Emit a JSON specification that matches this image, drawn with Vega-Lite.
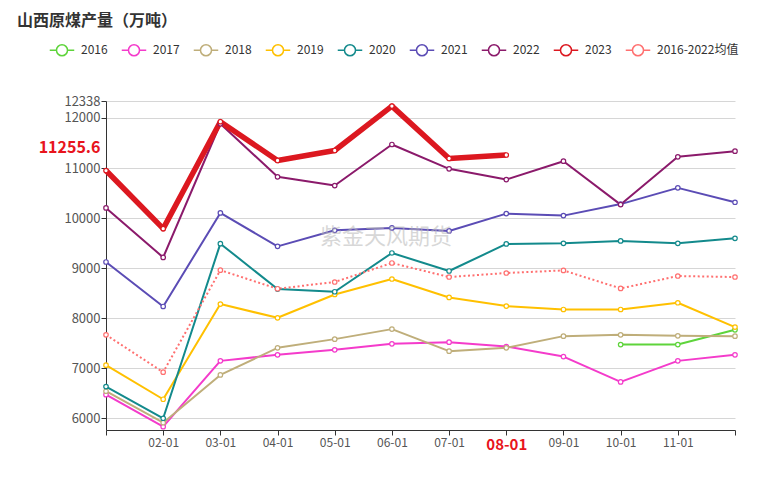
{
  "$schema": "https://vega.github.io/schema/vega-lite/v6.json",
  "autosize": "none",
  "width": 629,
  "height": 329,
  "padding": {"left": 106, "top": 101, "right": 37, "bottom": 60},
  "background": "white",
  "title": {"text": "山西原煤产量（万吨）", "anchor": "start", "frame": "group", "dx": -89, "offset": 8, "font": "Noto Sans CJK SC", "fontSize": 16, "fontWeight": "bold", "color": "#333333"},
  "config": {"view": {"stroke": null}, "font": "Noto Sans CJK SC"},
  "data": {"values": [
    {"s": "2016", "m": "10-01", "v": 7476}, {"s": "2016", "m": "11-01", "v": 7476}, {"s": "2016", "m": "12-01", "v": 7770},
    {"s": "2017", "m": "01-01", "v": 6476}, {"s": "2017", "m": "02-01", "v": 5836}, {"s": "2017", "m": "03-01", "v": 7150}, {"s": "2017", "m": "04-01", "v": 7270}, {"s": "2017", "m": "05-01", "v": 7370}, {"s": "2017", "m": "06-01", "v": 7490}, {"s": "2017", "m": "07-01", "v": 7524}, {"s": "2017", "m": "08-01", "v": 7436}, {"s": "2017", "m": "09-01", "v": 7236}, {"s": "2017", "m": "10-01", "v": 6730}, {"s": "2017", "m": "11-01", "v": 7150}, {"s": "2017", "m": "12-01", "v": 7270},
    {"s": "2018", "m": "01-01", "v": 6544}, {"s": "2018", "m": "02-01", "v": 5916}, {"s": "2018", "m": "03-01", "v": 6870}, {"s": "2018", "m": "04-01", "v": 7410}, {"s": "2018", "m": "05-01", "v": 7584}, {"s": "2018", "m": "06-01", "v": 7784}, {"s": "2018", "m": "07-01", "v": 7344}, {"s": "2018", "m": "08-01", "v": 7410}, {"s": "2018", "m": "09-01", "v": 7644}, {"s": "2018", "m": "10-01", "v": 7670}, {"s": "2018", "m": "11-01", "v": 7650}, {"s": "2018", "m": "12-01", "v": 7644},
    {"s": "2019", "m": "01-01", "v": 7064}, {"s": "2019", "m": "02-01", "v": 6384}, {"s": "2019", "m": "03-01", "v": 8284}, {"s": "2019", "m": "04-01", "v": 8010}, {"s": "2019", "m": "05-01", "v": 8476}, {"s": "2019", "m": "06-01", "v": 8784}, {"s": "2019", "m": "07-01", "v": 8416}, {"s": "2019", "m": "08-01", "v": 8244}, {"s": "2019", "m": "09-01", "v": 8176}, {"s": "2019", "m": "10-01", "v": 8176}, {"s": "2019", "m": "11-01", "v": 8310}, {"s": "2019", "m": "12-01", "v": 7824},
    {"s": "2020", "m": "01-01", "v": 6636}, {"s": "2020", "m": "02-01", "v": 6004}, {"s": "2020", "m": "03-01", "v": 9490}, {"s": "2020", "m": "04-01", "v": 8584}, {"s": "2020", "m": "05-01", "v": 8530}, {"s": "2020", "m": "06-01", "v": 9304}, {"s": "2020", "m": "07-01", "v": 8944}, {"s": "2020", "m": "08-01", "v": 9484}, {"s": "2020", "m": "09-01", "v": 9496}, {"s": "2020", "m": "10-01", "v": 9544}, {"s": "2020", "m": "11-01", "v": 9496}, {"s": "2020", "m": "12-01", "v": 9596},
    {"s": "2021", "m": "01-01", "v": 9124}, {"s": "2021", "m": "02-01", "v": 8236}, {"s": "2021", "m": "03-01", "v": 10104}, {"s": "2021", "m": "04-01", "v": 9436}, {"s": "2021", "m": "05-01", "v": 9756}, {"s": "2021", "m": "06-01", "v": 9804}, {"s": "2021", "m": "07-01", "v": 9744}, {"s": "2021", "m": "08-01", "v": 10090}, {"s": "2021", "m": "09-01", "v": 10050}, {"s": "2021", "m": "10-01", "v": 10280}, {"s": "2021", "m": "11-01", "v": 10604}, {"s": "2021", "m": "12-01", "v": 10316},
    {"s": "2022", "m": "01-01", "v": 10204}, {"s": "2022", "m": "02-01", "v": 9216}, {"s": "2022", "m": "03-01", "v": 11884}, {"s": "2022", "m": "04-01", "v": 10824}, {"s": "2022", "m": "05-01", "v": 10650}, {"s": "2022", "m": "06-01", "v": 11470}, {"s": "2022", "m": "07-01", "v": 10984}, {"s": "2022", "m": "08-01", "v": 10770}, {"s": "2022", "m": "09-01", "v": 11136}, {"s": "2022", "m": "10-01", "v": 10270}, {"s": "2022", "m": "11-01", "v": 11224}, {"s": "2022", "m": "12-01", "v": 11336},
    {"s": "2023", "m": "01-01", "v": 10950}, {"s": "2023", "m": "02-01", "v": 9790}, {"s": "2023", "m": "03-01", "v": 11924}, {"s": "2023", "m": "04-01", "v": 11150}, {"s": "2023", "m": "05-01", "v": 11350}, {"s": "2023", "m": "06-01", "v": 12236}, {"s": "2023", "m": "07-01", "v": 11190}, {"s": "2023", "m": "08-01", "v": 11260},
    {"s": "2016-2022均值", "m": "01-01", "v": 7670}, {"s": "2016-2022均值", "m": "02-01", "v": 6924}, {"s": "2016-2022均值", "m": "03-01", "v": 8960}, {"s": "2016-2022均值", "m": "04-01", "v": 8590}, {"s": "2016-2022均值", "m": "05-01", "v": 8724}, {"s": "2016-2022均值", "m": "06-01", "v": 9104}, {"s": "2016-2022均值", "m": "07-01", "v": 8824}, {"s": "2016-2022均值", "m": "08-01", "v": 8904}, {"s": "2016-2022均值", "m": "09-01", "v": 8956}, {"s": "2016-2022均值", "m": "10-01", "v": 8596}, {"s": "2016-2022均值", "m": "11-01", "v": 8844}, {"s": "2016-2022均值", "m": "12-01", "v": 8824}
  ]},
  "encoding": {
    "x": {"field": "m", "type": "ordinal",
      "scale": {"type": "point", "padding": 0, "domain": ["01-01","02-01","03-01","04-01","05-01","06-01","07-01","08-01","09-01","10-01","11-01","12-01"]},
      "axis": {"title": null, "labelAngle": 0, "grid": false,
        "labelExpr": "datum.value == '01-01' || datum.value == '12-01' ? '' : datum.label",
        "domainColor": "#333333", "tickColor": "#333333", "tickSize": 5, "labelPadding": 2,
        "labelFont": "Noto Sans CJK SC",
        "labelColor": {"condition": {"test": "datum.value == '08-01'", "value": "#E8141C"}, "value": "#555555"},
        "labelFontWeight": {"condition": {"test": "datum.value == '08-01'", "value": "bold"}, "value": "normal"},
        "labelFontSize": {"condition": {"test": "datum.value == '08-01'", "value": 15}, "value": 12}}},
    "y": {"field": "v", "type": "quantitative",
      "scale": {"domain": [5770, 12338], "nice": false, "zero": false},
      "axis": {"title": null, "values": [6000, 7000, 8000, 9000, 10000, 11000, 11255.6, 12000, 12338],
        "labelOverlap": false,
        "labelExpr": "datum.value == 11255.6 ? '11255.6' : format(datum.value, 'd')",
        "domainColor": "#333333", "tickSize": 5, "labelPadding": 1, "labelFont": "Noto Sans CJK SC",
        "tickColor": {"condition": {"test": "datum.value == 11255.6", "value": "transparent"}, "value": "#333333"},
        "gridColor": {"condition": {"test": "datum.value == 11255.6", "value": "transparent"}, "value": "#d6d6d6"},
        "labelColor": {"condition": {"test": "datum.value == 11255.6", "value": "#E8141C"}, "value": "#555555"},
        "labelBaseline": {"condition": {"test": "datum.value == 11255.6", "value": "bottom"}, "value": "middle"},
        "labelFontWeight": {"condition": {"test": "datum.value == 11255.6", "value": "bold"}, "value": "normal"},
        "labelFontSize": {"condition": {"test": "datum.value == 11255.6", "value": 16}, "value": 13}}},
    "color": {"field": "s", "type": "nominal",
      "scale": {"domain": ["2016","2017","2018","2019","2020","2021","2022","2023","2016-2022均值"],
        "range": ["#5ED43B","#F43BCB","#BFAE7A","#FFC000","#138A8C","#5B4CB5","#8B1A6B","#DC1820","#FF7070"]},
      "legend": {"orient": "none", "legendX": -57, "legendY": -64, "direction": "horizontal", "title": null,
        "symbolType": "M -1 0 H -0.45 M 0.45 0 H 1 M 0.45 0 A 0.45 0.45 0 1 1 -0.45 0 A 0.45 0.45 0 1 1 0.45 0",
        "symbolSize": 600, "symbolStrokeWidth": 1.5, "symbolFillColor": "white",
        "labelFontSize": 12, "labelColor": "#333333", "labelFont": "Noto Sans CJK SC", "columnPadding": 10, "labelOffset": 6}}
  },
  "layer": [
    {"transform": [{"filter": "datum.s != '2023' && datum.s != '2016-2022均值'"}],
      "mark": {"type": "line", "strokeWidth": 2, "strokeJoin": "round"}},
    {"transform": [{"filter": "datum.s == '2016-2022均值'"}],
      "mark": {"type": "line", "strokeWidth": 2, "strokeDash": [2, 2.5]}},
    {"transform": [{"filter": "datum.s == '2023'"}],
      "mark": {"type": "line", "strokeWidth": 5.5, "strokeJoin": "round"}},
    {"mark": {"type": "point", "filled": false, "fill": "white", "fillOpacity": 1, "opacity": 1, "size": 20, "strokeWidth": 1.2}},
    {"data": {"values": [{"m": "06-01", "v": 9630, "t": "紫金天风期货"}]},
      "mark": {"type": "text", "fontSize": 22, "color": "#b8b8b8", "opacity": 0.55, "dx": -6, "font": "Noto Sans CJK SC"},
      "encoding": {"text": {"field": "t"}, "color": null}}
  ]
}
